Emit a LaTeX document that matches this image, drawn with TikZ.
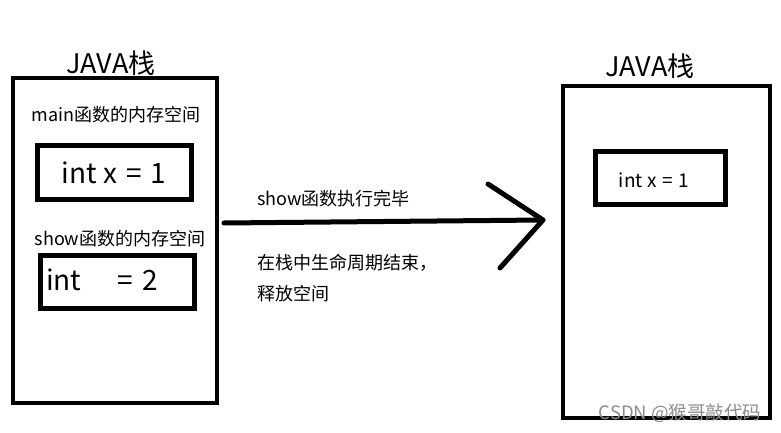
\documentclass[tikz,border=0pt]{standalone}
\usepackage{fontspec}
\setmainfont{Noto Sans CJK SC}
\tikzset{
  stackbox/.style={draw, line width=4.5pt, minimum width=#1, inner sep=0pt},
  framebox/.style={draw, line width=5pt, inner sep=0pt},
  lbl/.style={inner sep=0pt, font=\fontsize{18}{20}\selectfont},
  title/.style={inner sep=0pt, font=\fontsize{27}{30}\selectfont},
  big/.style={inner sep=0pt, font=\fontsize{28}{32}\selectfont},
  stroke/.style={line width=5pt, line cap=round}
}
\begin{document}
\begin{tikzpicture}[x=1pt,y=-1pt]
\useasboundingbox (0,0) rectangle (781,433);
% left stack
\node[stackbox=204pt, minimum height=325pt] (lstack) at (115,240.5) {};
\node[title] (ltitle) at (111,63) {JAVA栈};
\node[lbl] (mainlbl) at (116,115) {main函数的内存空间};
\node[framebox, minimum width=154pt, minimum height=54pt] (xbox) at (114,172) {};
\node[big] (xtext) at (114,173) {int x\hspace{0.1em} =\hspace{0.1em} 1};
\node[lbl] (showlbl) at (120,239) {show函数的内存空间};
\node[framebox, minimum width=154pt, minimum height=53pt] (ybox) at (117,281.5) {};
\node[big, anchor=west] (ytext) at (46,280) {int\hspace{1.3em}=\hspace{0.1em} 2};
% right stack
\node[stackbox=207pt, minimum height=332pt] (rstack) at (666.5,252) {};
\node[title] (rtitle) at (650,66) {JAVA栈};
\node[framebox, minimum width=130pt, minimum height=53pt] (rbox) at (660,177.5) {};
\node[inner sep=0pt, font=\fontsize{19}{21}\selectfont] (rtext) at (654,180) {int x\hspace{0.08em} =\hspace{0.08em} 1};
% arrow
\coordinate (a0) at (224,223);
\coordinate (a1) at (543,220);
\coordinate (h1) at (488,184);
\coordinate (h2) at (500,268);
\draw[stroke] (a0) -- (a1);
\draw[stroke, line join=round] (h1) -- (a1) -- (h2);
\node[lbl, anchor=west] (t1) at (257,199) {show函数执行完毕};
\node[lbl, anchor=west] (t2) at (257,263) {在栈中生命周期结束，};
\node[lbl, anchor=west] (t3) at (257,294) {释放空间};
% watermark
\node[inner sep=0pt, text=black!45, font=\fontsize{18.5}{20}\selectfont] (wm) at (680,413) {CSDN @猴哥敲代码};
\end{tikzpicture}
\end{document}
